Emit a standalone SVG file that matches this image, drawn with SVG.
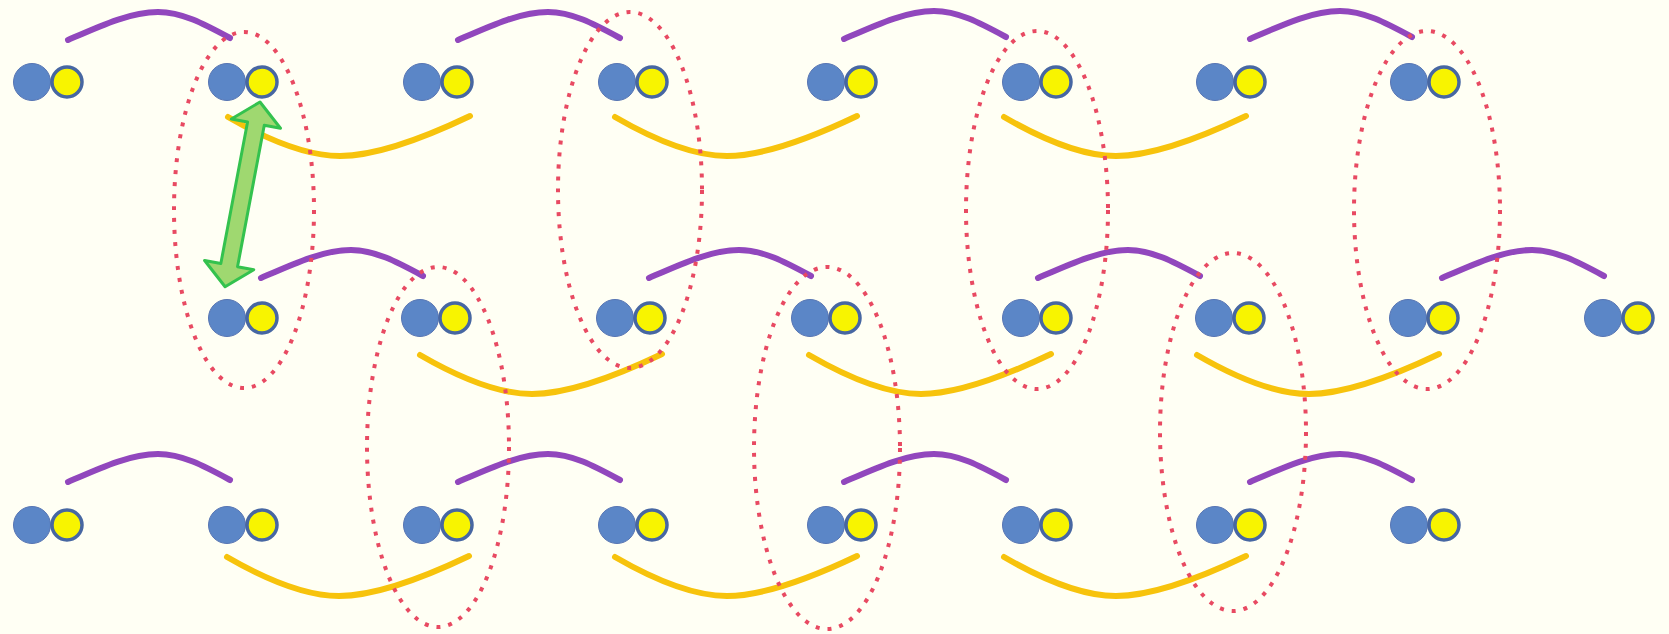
<svg xmlns="http://www.w3.org/2000/svg" xmlns:xlink="http://www.w3.org/1999/xlink" width="1669" height="634" viewBox="0 0 1669 634">
  <style>
    .bg { fill: #fffff4; }
    .blue { fill: #5b86c7; stroke: #5775b3; stroke-width: 1; }
    .yel { fill: #f8f400; stroke: #4767a2; stroke-width: 3.5; }
    .p-arc { fill: none; stroke: #9147bd; stroke-width: 6; stroke-linecap: round; }
    .y-arc { fill: none; stroke: #f7c30c; stroke-width: 6; stroke-linecap: round; }
    .ring { fill: none; stroke: #e84a62; stroke-width: 4; stroke-dasharray: 4 8; }
    .arrow { fill: #9fd870; stroke: #34c24e; stroke-width: 3; stroke-linejoin: round; }
  </style>
  <defs>
    <!-- molecule: blue atom with a yellow atom bonded on its right -->
    <g id="mol">
      <circle class="blue" cx="0" cy="0" r="18.5"/>
      <circle class="yel" cx="35" cy="0" r="15"/>
    </g>
    <!-- arc over a pair of molecules -->
    <path id="arcUp" class="p-arc" d="M0,0 C32,-14 62,-28 90,-28 C114,-28 136,-16 162,-2"/>
    <!-- arc under a pair of molecules -->
    <path id="arcDown" class="y-arc" d="M0,0 C38,22 78,39 112,39 C150,39 198,20 242,-1"/>
  </defs>

  <rect class="bg" x="0" y="0" width="1669" height="634"/>

  <!-- connectors: bond arcs -->
  <g id="connectors">
    <use href="#arcUp" x="68" y="40"/>
    <use href="#arcUp" x="458" y="40"/>
    <use href="#arcUp" x="844" y="39"/>
    <use href="#arcUp" x="1250" y="39"/>

    <use href="#arcUp" x="261" y="278"/>
    <use href="#arcUp" x="649" y="278"/>
    <use href="#arcUp" x="1038" y="278"/>
    <use href="#arcUp" x="1442" y="278"/>

    <use href="#arcUp" x="68" y="482"/>
    <use href="#arcUp" x="458" y="482"/>
    <use href="#arcUp" x="844" y="482"/>
    <use href="#arcUp" x="1250" y="482"/>

    <use href="#arcDown" x="228" y="117"/>
    <use href="#arcDown" x="615" y="117"/>
    <use href="#arcDown" x="1004" y="117"/>

    <use href="#arcDown" x="420" y="355"/>
    <use href="#arcDown" x="809" y="355"/>
    <use href="#arcDown" x="1197" y="355"/>

    <use href="#arcDown" x="227" y="557"/>
    <use href="#arcDown" x="615" y="557"/>
    <use href="#arcDown" x="1004" y="557"/>
  </g>

  <!-- top row -->
  <g id="m-top-0"><use href="#mol" x="32" y="82"/></g>
  <g id="m-top-1"><use href="#mol" x="227" y="82"/></g>
  <g id="m-top-2"><use href="#mol" x="422" y="82"/></g>
  <g id="m-top-3"><use href="#mol" x="617" y="82"/></g>
  <g id="m-top-4"><use href="#mol" x="826" y="82"/></g>
  <g id="m-top-5"><use href="#mol" x="1021" y="82"/></g>
  <g id="m-top-6"><use href="#mol" x="1215" y="82"/></g>
  <g id="m-top-7"><use href="#mol" x="1409" y="82"/></g>

  <!-- middle row -->
  <g id="m-mid-1"><use href="#mol" x="227" y="318"/></g>
  <g id="m-mid-2"><use href="#mol" x="420" y="318"/></g>
  <g id="m-mid-3"><use href="#mol" x="615" y="318"/></g>
  <g id="m-mid-4"><use href="#mol" x="810" y="318"/></g>
  <g id="m-mid-5"><use href="#mol" x="1021" y="318"/></g>
  <g id="m-mid-6"><use href="#mol" x="1214" y="318"/></g>
  <g id="m-mid-7"><use href="#mol" x="1408" y="318"/></g>
  <g id="m-mid-8"><use href="#mol" x="1603" y="318"/></g>

  <!-- bottom row -->
  <g id="m-bot-0"><use href="#mol" x="32" y="525"/></g>
  <g id="m-bot-1"><use href="#mol" x="227" y="525"/></g>
  <g id="m-bot-2"><use href="#mol" x="422" y="525"/></g>
  <g id="m-bot-3"><use href="#mol" x="617" y="525"/></g>
  <g id="m-bot-4"><use href="#mol" x="826" y="525"/></g>
  <g id="m-bot-5"><use href="#mol" x="1021" y="525"/></g>
  <g id="m-bot-6"><use href="#mol" x="1215" y="525"/></g>
  <g id="m-bot-7"><use href="#mol" x="1409" y="525"/></g>

  <!-- dotted rings grouping molecules across rows -->
  <g id="rings">
    <ellipse class="ring" cx="244" cy="210" rx="70" ry="178"/>
    <ellipse class="ring" cx="630" cy="190" rx="72" ry="178"/>
    <ellipse class="ring" cx="1037" cy="210" rx="71" ry="179"/>
    <ellipse class="ring" cx="1427" cy="210" rx="73" ry="179"/>
    <ellipse class="ring" cx="438" cy="447" rx="71" ry="180"/>
    <ellipse class="ring" cx="827" cy="448" rx="73" ry="181"/>
    <ellipse class="ring" cx="1233" cy="432" rx="73" ry="179"/>
  </g>

  <!-- double-headed spacing arrow -->
  <g id="spacing-arrow" transform="translate(260,102) rotate(10.7)">
    <polygon class="arrow" points="0,0 25,22 8.5,22 8.5,166 25,166 0,188 -25,166 -8.5,166 -8.5,22 -25,22"/>
  </g>
</svg>
